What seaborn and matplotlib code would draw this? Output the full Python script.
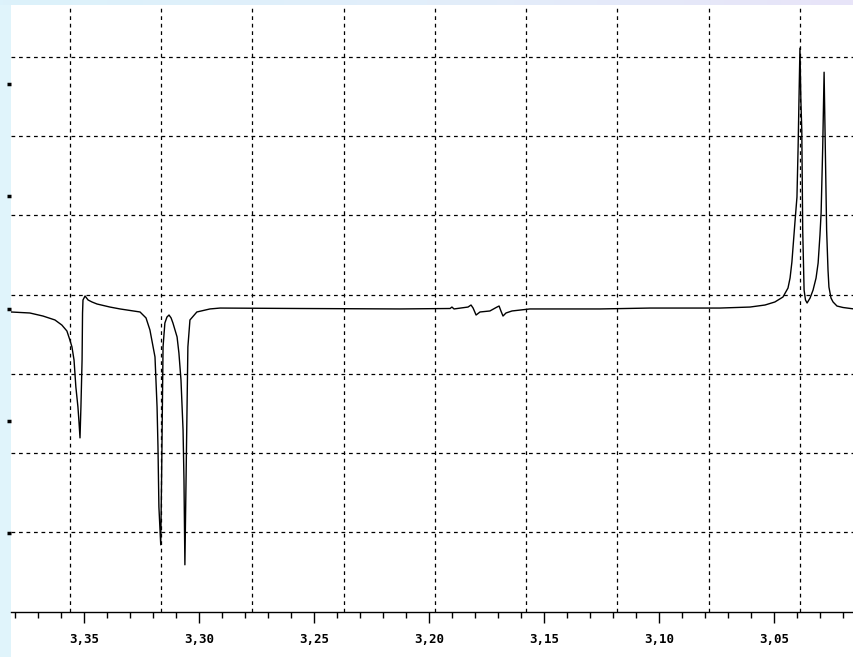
import numpy as np
import pandas as pd
import matplotlib
matplotlib.use("Agg")
import matplotlib.pyplot as plt
from matplotlib.colors import LinearSegmentedColormap
from matplotlib.ticker import FixedLocator, MultipleLocator, FuncFormatter
import seaborn as sns

# Chemical shift (ppm) and signal intensity (arbitrary units, baseline = 0)
shift_ppm = [
    3.3819, 3.3737, 3.3680, 3.3628, 3.3598, 3.3576, 3.3563, 3.3554, 3.3545,
    3.3537, 3.3528, 3.3524, 3.3519, 3.3515, 3.3510, 3.3508, 3.3506, 3.3497,
    3.3484, 3.3467, 3.3445, 3.3389, 3.3345, 3.3258, 3.3232, 3.3215, 3.3193,
    3.3184, 3.3180, 3.3176, 3.3168, 3.3164, 3.3158, 3.3150, 3.3141, 3.3132,
    3.3123, 3.3115, 3.3097, 3.3089, 3.3080, 3.3071, 3.3067, 3.3063, 3.3055,
    3.3050, 3.3041, 3.3011, 3.2954, 3.2910, 3.2563, 3.2128, 3.1910, 3.1902,
    3.1893, 3.1832, 3.1819, 3.1810, 3.1797, 3.1780, 3.1737, 3.1706, 3.1697,
    3.1689, 3.1680, 3.1667, 3.1641, 3.1563, 3.1258, 3.1041, 3.0737, 3.0606,
    3.0541, 3.0498, 3.0463, 3.0441, 3.0432, 3.0424, 3.0419, 3.0410, 3.0402,
    3.0397, 3.0393, 3.0389, 3.0385, 3.0381, 3.0377, 3.0371, 3.0365, 3.0358,
    3.0345, 3.0332, 3.0319, 3.0310, 3.0302, 3.0297, 3.0290, 3.0284, 3.0280,
    3.0273, 3.0267, 3.0263, 3.0254, 3.0245, 3.0228, 3.0202, 3.0154,
]
intensity = [
    -0.031, -0.040, -0.067, -0.102, -0.147, -0.200, -0.280, -0.342, -0.458,
    -0.698, -0.876, -0.991, -1.151, -0.876, -0.458, -0.040, 0.076, 0.111,
    0.076, 0.058, 0.040, 0.013, -0.004, -0.031, -0.084, -0.191, -0.431,
    -0.876, -1.231, -1.764, -2.102, -1.462, -0.342, -0.129, -0.076, -0.058,
    -0.084, -0.129, -0.253, -0.396, -0.636, -1.080, -1.524, -2.280, -1.080,
    -0.342, -0.102, -0.031, -0.004, 0.004, 0.000, -0.004, 0.000, 0.013,
    -0.004, 0.013, 0.031, 0.004, -0.058, -0.031, -0.022, 0.013, 0.022,
    -0.022, -0.067, -0.040, -0.022, -0.004, -0.004, 0.004, 0.004, 0.013,
    0.031, 0.058, 0.102, 0.182, 0.271, 0.413, 0.547, 0.787, 0.991,
    1.436, 1.880, 2.316, 1.853, 1.587, 0.698, 0.164, 0.076, 0.049,
    0.093, 0.164, 0.271, 0.404, 0.653, 0.849, 1.436, 2.102, 1.587,
    0.698, 0.342, 0.191, 0.093, 0.058, 0.022, 0.009, -0.004,
]

x_ticks = [3.35, 3.30, 3.25, 3.20, 3.15, 3.10, 3.05]
y_ticks = [-2, -1, 0, 1, 2]

spectrum = pd.DataFrame({"ppm": shift_ppm, "signal": intensity})

sns.set_theme(style="white")
plt.rcParams["font.family"] = ["DejaVu Sans Mono", "DejaVu Sans"]

fig = plt.figure(figsize=(8.54, 6.57), dpi=100)
fig.patch.set_facecolor("#e0f4fb")

# white display window behind the plot and its axis labels
window = fig.add_axes([11 / 854, 0, 843 / 854, 652 / 657])
window.set_facecolor("white")
window.set_xticks([])
window.set_yticks([])
for sp in window.spines.values():
    sp.set_visible(False)
window.set_zorder(-5)

# thin header band with a soft blue-to-lavender gradient
band = fig.add_axes([0, 1 - 5 / 657, 1, 5 / 657])
band.imshow(np.linspace(0, 1, 256)[None, :], aspect="auto",
            cmap=LinearSegmentedColormap.from_list("hdr", ["#dcf2fb", "#e2eefa", "#e8e4f8"]),
            extent=[0, 1, 0, 1])
band.set_axis_off()

ax = fig.add_axes([11 / 854, 45 / 657, 843 / 854, 607 / 657])
ax.set_facecolor("none")

xlim = (3.3819, 3.0154)
ylim = (-2.70, 2.70)

# dashed screen grid (independent of the tick positions)
v_grid = 3.3563 - 0.03968 * np.arange(9)
h_grid = -1.991 + 0.705 * np.arange(7)
for gx in v_grid:
    ax.axvline(gx, color="black", lw=0.9, ls=(0, (3, 3)), zorder=1)
for gy in h_grid:
    ax.axhline(gy, color="black", lw=0.9, ls=(0, (3, 3)), zorder=1)

sns.lineplot(data=spectrum, x="ppm", y="signal", sort=False, estimator=None,
             color="black", lw=1.0, ax=ax, zorder=3)

ax.set_xlim(*xlim)
ax.set_ylim(*ylim)
ax.set_xlabel("")
ax.set_ylabel("")

for side in ("top", "right", "left"):
    ax.spines[side].set_visible(False)
ax.spines["bottom"].set_color("black")
ax.spines["bottom"].set_linewidth(1.0)

ax.xaxis.set_major_locator(FixedLocator(x_ticks))
ax.xaxis.set_minor_locator(MultipleLocator(0.01))
ax.xaxis.set_major_formatter(FuncFormatter(lambda v, _: f"{v:.2f}".replace(".", ",")))
ax.tick_params(axis="x", which="major", direction="out", length=8, width=1,
               color="black", labelsize=9, labelcolor="black", pad=7, bottom=True)
ax.tick_params(axis="x", which="minor", direction="out", length=4, width=1,
               color="black", bottom=True)
for lab in ax.get_xticklabels():
    lab.set_fontweight("bold")

ax.yaxis.set_major_locator(FixedLocator(y_ticks))
ax.tick_params(axis="y", which="major", direction="out", length=3, width=2.5,
               color="black", left=True, labelleft=False)

fig.savefig("out.png", dpi=100, facecolor=fig.get_facecolor())
